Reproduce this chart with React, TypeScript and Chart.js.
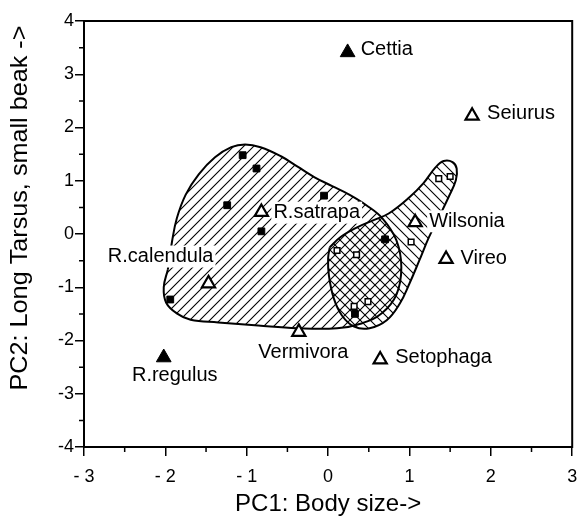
import React, { useEffect, useRef } from 'react';
import { Chart, registerables } from 'chart.js';

Chart.register(...registerables);

// ---- axis ticks ----
const xTickValues = [-3, -2, -1, 0, 1, 2, 3];
const xTickLabels = ['- 3', '- 2', '- 1', '0', '1', '2', '3'];
const yTickValues = [-4, -3, -2, -1, 0, 1, 2, 3, 4];
const yTickLabels = ['-4', '-3', '-2', '-1', '0', '1', '2', '3', '4'];
const xMinorTicks = [-2.5, -1.5, -0.5, 0.5, 1.5, 2.5];
const yMinorTicks = [-3.5, -2.5, -1.5, -0.5, 0.5, 1.5, 2.5, 3.5];

const xTitle = 'PC1: Body size->';
const yTitle = 'PC2: Long Tarsus, small beak ->';

// ---- individual points (squares) ----
const filledSquareX = [-1.05, -0.88, -1.24, -0.82, -0.05, -1.94, 0.70, 0.33];
const filledSquareY = [1.48, 1.23, 0.54, 0.05, 0.72, -1.23, -0.10, -1.50];
const openSquareX = [0.11, 0.35, 1.02, 1.36, 1.50, 0.32, 0.49];
const openSquareY = [-0.31, -0.39, -0.15, 1.04, 1.08, -1.36, -1.27];

// ---- genera (triangles) ----
const filledTriNames = ['Cettia', 'R.regulus'];
const filledTriX = [0.24, -2.02];
const filledTriY = [3.41, -2.32];
const openTriNames = ['Seiurus', 'Wilsonia', 'Vireo', 'Setophaga', 'Vermivora', 'R.calendula', 'R.satrapa'];
const openTriX = [1.77, 1.07, 1.45, 0.64, -0.36, -1.47, -0.82];
const openTriY = [2.22, 0.22, -0.47, -2.36, -1.84, -0.93, 0.41];

// ---- hatched regions (outline vertices) ----
const regionAX = [-1.97, -1.92, -1.86, -1.75, -1.59, -1.39, -1.19, -1.02, -0.83, -0.58, -0.38, -0.16, 0.05, 0.26, 0.47, 0.67, 0.84, 0.90, 0.84, 0.66, 0.41, 0.11, -0.38, -0.86, -1.35, -1.69, -1.86, -1.99, -2.02, -1.97];
const regionAY = [-0.67, -0.16, 0.29, 0.74, 1.12, 1.44, 1.63, 1.68, 1.63, 1.46, 1.27, 1.06, 0.90, 0.74, 0.54, 0.29, -0.12, -0.63, -1.14, -1.49, -1.68, -1.77, -1.77, -1.72, -1.66, -1.61, -1.49, -1.29, -1.00, -0.67];
const regionBX = [0.02, 0.15, 0.35, 0.56, 0.75, 1.00, 1.17, 1.32, 1.42, 1.53, 1.58, 1.57, 1.48, 1.36, 1.24, 1.12, 1.00, 0.88, 0.72, 0.51, 0.32, 0.17, 0.07, 0.01, 0.00, 0.02];
const regionBY = [-0.25, -0.06, 0.12, 0.26, 0.39, 0.69, 0.95, 1.25, 1.37, 1.35, 1.23, 1.01, 0.69, 0.31, -0.06, -0.50, -0.93, -1.31, -1.62, -1.77, -1.74, -1.53, -1.21, -0.78, -0.46, -0.25];

// ---- label placement (pixel offsets from the marker) ----
const labelPlacement: Record<string, { dx: number; dy: number; align: CanvasTextAlign }> = {
  Cettia: { dx: 13, dy: -3, align: 'left' },
  'R.regulus': { dx: 11, dy: 18, align: 'center' },
  Seiurus: { dx: 15, dy: -2, align: 'left' },
  Wilsonia: { dx: 14, dy: -1, align: 'left' },
  Vireo: { dx: 14.5, dy: -1, align: 'left' },
  Setophaga: { dx: 15, dy: -2, align: 'left' },
  Vermivora: { dx: 4.5, dy: 21, align: 'center' },
  'R.calendula': { dx: 5, dy: -27, align: 'right' },
  'R.satrapa': { dx: 12, dy: 0.5, align: 'left' },
};

const FONT = '"Liberation Sans", Arial, Helvetica, sans-serif';

const zip = (xs: number[], ys: number[]) => xs.map((x, i) => ({ x, y: ys[i] }));

function makeHatch(ctx: CanvasRenderingContext2D, dir: 1 | -1) {
  const s = 10;
  const c = document.createElement('canvas');
  c.width = s;
  c.height = s;
  const g = c.getContext('2d')!;
  g.strokeStyle = '#000';
  g.lineWidth = 1.1;
  g.beginPath();
  if (dir === 1) {
    g.moveTo(-1, s + 1); g.lineTo(s + 1, -1);
    g.moveTo(-1, 1); g.lineTo(1, -1);
    g.moveTo(s - 1, s + 1); g.lineTo(s + 1, s - 1);
  } else {
    g.moveTo(-1, -1); g.lineTo(s + 1, s + 1);
    g.moveTo(s - 1, -1); g.lineTo(s + 1, 1);
    g.moveTo(-1, s - 1); g.lineTo(1, s + 1);
  }
  g.stroke();
  return ctx.createPattern(c, 'repeat')!;
}

const decorPlugin = {
  id: 'decor',
  afterDatasetsDraw(chart: any) {
    const { ctx, scales } = chart;
    const xs = scales.x;
    const ys = scales.y;
    ctx.save();
    ctx.font = `20px ${FONT}`;
    ctx.textBaseline = 'middle';
    const drawLabel = (name: string, x: number, y: number) => {
      const p = labelPlacement[name];
      const px = xs.getPixelForValue(x) + p.dx;
      const py = ys.getPixelForValue(y) + p.dy;
      const w = ctx.measureText(name).width;
      let left = px;
      if (p.align === 'center') left = px - w / 2;
      if (p.align === 'right') left = px - w;
      ctx.fillStyle = '#fff';
      ctx.fillRect(left - 2, py - 11, w + 4, 22);
      ctx.fillStyle = '#000';
      ctx.textAlign = p.align;
      ctx.fillText(name, px, py);
    };
    filledTriNames.forEach((n, i) => drawLabel(n, filledTriX[i], filledTriY[i]));
    openTriNames.forEach((n, i) => drawLabel(n, openTriX[i], openTriY[i]));
    ctx.restore();
  },
  afterDraw(chart: any) {
    const { ctx, chartArea, scales } = chart;
    const { left, right, top, bottom } = chartArea;
    ctx.save();
    ctx.strokeStyle = '#000';
    ctx.lineWidth = 2;
    ctx.beginPath();
    ctx.moveTo(left - 1, top);
    ctx.lineTo(right, top);
    ctx.lineTo(right, bottom + 1);
    ctx.stroke();
    ctx.lineWidth = 1.5;
    ctx.beginPath();
    xMinorTicks.forEach((v) => {
      const px = scales.x.getPixelForValue(v);
      ctx.moveTo(px, bottom);
      ctx.lineTo(px, bottom + 5);
    });
    yMinorTicks.forEach((v) => {
      const py = scales.y.getPixelForValue(v);
      ctx.moveTo(left, py);
      ctx.lineTo(left - 5, py);
    });
    ctx.stroke();
    // y axis title
    ctx.translate(20, (top + bottom) / 2 - 26);
    ctx.rotate(-Math.PI / 2);
    ctx.scale(1.05, 1);
    ctx.font = `24px ${FONT}`;
    ctx.fillStyle = '#000';
    ctx.textAlign = 'center';
    ctx.textBaseline = 'middle';
    ctx.fillText(yTitle, 0, 0);
    ctx.restore();
  },
};

export default function App() {
  const canvasRef = useRef<HTMLCanvasElement | null>(null);

  useEffect(() => {
    const canvas = canvasRef.current!;
    const ctx = canvas.getContext('2d')!;
    const hatchFwd = makeHatch(ctx, 1);
    const hatchBack = makeHatch(ctx, -1);

    const chart = new Chart(ctx, {
      type: 'scatter',
      data: {
        datasets: [
          {
            data: zip(regionBX, regionBY),
            showLine: true,
            fill: 'shape',
            backgroundColor: hatchBack,
            borderColor: '#000',
            borderWidth: 2,
            pointRadius: 0,
            tension: 0.4,
            order: 6,
          } as any,
          {
            data: zip(regionAX, regionAY),
            showLine: true,
            fill: 'shape',
            backgroundColor: hatchFwd,
            borderColor: '#000',
            borderWidth: 2,
            pointRadius: 0,
            tension: 0.4,
            order: 5,
          } as any,
          {
            data: zip(filledSquareX, filledSquareY),
            pointStyle: 'rect',
            pointRadius: 4.8,
            backgroundColor: '#000',
            borderColor: '#000',
            borderWidth: 1,
            order: 3,
          },
          {
            data: zip(openSquareX, openSquareY),
            pointStyle: 'rect',
            pointRadius: 4,
            backgroundColor: '#fff',
            borderColor: '#000',
            borderWidth: 1.5,
            order: 3,
          },
          {
            data: zip(filledTriX, filledTriY),
            pointStyle: 'triangle',
            pointRadius: 8.5,
            backgroundColor: '#000',
            borderColor: '#000',
            borderWidth: 1,
            order: 2,
          },
          {
            data: zip(openTriX, openTriY),
            pointStyle: 'triangle',
            pointRadius: 7.6,
            backgroundColor: '#fff',
            borderColor: '#000',
            borderWidth: 2.2,
            order: 2,
          },
        ],
      },
      options: {
        responsive: false,
        animation: false,
        events: [],
        layout: { padding: { left: 0, right: 4, top: 21, bottom: 0 } },
        plugins: { legend: { display: false }, tooltip: { enabled: false } },
        scales: {
          x: {
            type: 'linear',
            min: -3,
            max: 3,
            afterFit: (s: any) => {
              s.height = 72;
              s.paddingLeft = 0;
              s.paddingRight = 0;
            },
            ticks: {
              stepSize: 1,
              autoSkip: false,
              maxRotation: 0,
              padding: 10.5,
              color: '#000',
              font: { family: FONT, size: 18 },
              callback: (v: any) => {
                const i = xTickValues.indexOf(Number(v));
                return i >= 0 ? xTickLabels[i] : '';
              },
            },
            grid: { display: true, drawOnChartArea: false, drawTicks: true, tickLength: 9, color: '#000', lineWidth: 1.5 },
            border: { display: true, color: '#000', width: 2 },
            title: {
              display: true,
              text: xTitle,
              color: '#000',
              font: { family: FONT, size: 24 },
              padding: { top: 0, bottom: 0 },
            },
          },
          y: {
            type: 'linear',
            min: -4,
            max: 4,
            afterFit: (s: any) => {
              s.width = 84;
              s.paddingTop = 0;
              s.paddingBottom = 0;
            },
            ticks: {
              stepSize: 1,
              autoSkip: false,
              padding: 1,
              color: '#000',
              font: { family: FONT, size: 18 },
              callback: (v: any) => {
                const i = yTickValues.indexOf(Number(v));
                return i >= 0 ? yTickLabels[i] : '';
              },
            },
            grid: { display: true, drawOnChartArea: false, drawTicks: true, tickLength: 9, color: '#000', lineWidth: 1.5 },
            border: { display: true, color: '#000', width: 2 },
          },
        },
      },
      plugins: [decorPlugin],
    });

    return () => chart.destroy();
  }, []);

  return (
    <div style={{ position: 'absolute', left: 0, top: 0, width: 582, height: 519, background: '#fff' }}>
      <canvas ref={canvasRef} width={582} height={519} style={{ display: 'block' }} />
    </div>
  );
}
